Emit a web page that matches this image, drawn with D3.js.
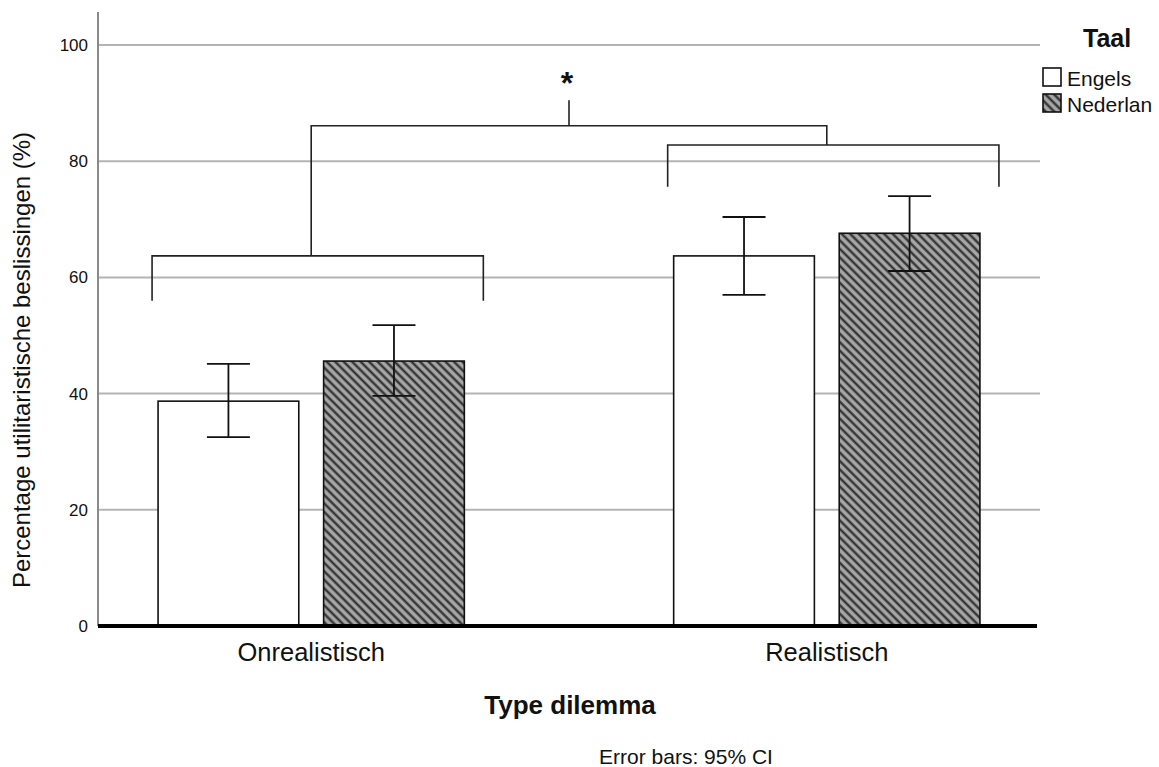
<!DOCTYPE html>
<html>
<head>
<meta charset="utf-8">
<script src="https://cdn.jsdelivr.net/npm/d3@7"></script>
<style>
  body { margin: 0; background: #fff; }
  text { font-family: "Liberation Sans", Arial, sans-serif; fill: #111; }
</style>
</head>
<body>
<svg id="chart"></svg>
<script>
// data
const categories = ['Onrealistisch', 'Realistisch'];
const languages = ['Engels', 'Nederlands'];
const legendLabels = ['Engels', 'Nederlan'];
const engelsMean = [38.7, 63.7];
const engelsLow = [32.5, 57.0];
const engelsHigh = [45.1, 70.4];
const nederlandsMean = [45.6, 67.6];
const nederlandsLow = [39.6, 61.1];
const nederlandsHigh = [51.8, 74.0];
const yTicks = [0, 20, 40, 60, 80, 100];
// significance brackets (percent units)
const bracketLevel = [63.7, 82.8];
const bracketFoot = [56.0, 75.6];
const topLevel = 86.1;
const topStem = 90.5;
const starLevel = 94.6;

const width = 1159, height = 767;
const mLeft = 98, mRight = 1040, mTop = 45, mBottom = 626;

const svg = d3.select('#chart')
    .attr('width', width)
    .attr('height', height);

// hatch pattern for Nederlands
const defs = svg.append('defs');
const pat = defs.append('pattern')
    .attr('id', 'hatch')
    .attr('patternUnits', 'userSpaceOnUse')
    .attr('width', 6)
    .attr('height', 6)
    .attr('patternTransform', 'rotate(-45)');
pat.append('rect').attr('width', 6).attr('height', 6).attr('fill', '#a6a6a6');
pat.append('line')
    .attr('x1', 1.5).attr('y1', 0).attr('x2', 1.5).attr('y2', 6)
    .attr('stroke', '#2a2a2a').attr('stroke-width', 2.2);

const y = d3.scaleLinear().domain([0, 100]).range([mBottom, mTop]);

const x0 = d3.scaleBand()
    .domain(categories)
    .range([mLeft, mRight])
    .paddingInner(0.406)
    .paddingOuter(0.1165);

const x1 = d3.scaleBand()
    .domain(languages)
    .range([0, x0.bandwidth()])
    .paddingInner(0.15);

// gridlines
svg.append('g')
    .selectAll('line')
    .data(yTicks.filter(d => d > 0))
    .enter()
    .append('line')
    .attr('x1', mLeft)
    .attr('x2', mRight)
    .attr('y1', d => y(d))
    .attr('y2', d => y(d))
    .attr('stroke', '#b4b4b4')
    .attr('stroke-width', 2);

// y axis
const yAxis = svg.append('g')
    .attr('transform', `translate(${mLeft},0)`)
    .call(d3.axisLeft(y).tickValues(yTicks).tickSize(0).tickPadding(10));
yAxis.select('.domain').remove();
yAxis.selectAll('text')
    .style('font-size', '17px')
    .style('font-family', '"Liberation Sans", Arial, sans-serif')
    .attr('fill', '#1a1a1a');

svg.append('line')
    .attr('x1', mLeft).attr('x2', mLeft)
    .attr('y1', 12).attr('y2', mBottom)
    .attr('stroke', '#8a8a8a')
    .attr('stroke-width', 2);

// bars
const rows = categories.map((c, i) => ({
    cat: c,
    vals: [
        { lang: 'Engels', mean: engelsMean[i], lo: engelsLow[i], hi: engelsHigh[i] },
        { lang: 'Nederlands', mean: nederlandsMean[i], lo: nederlandsLow[i], hi: nederlandsHigh[i] }
    ]
}));

const groups = svg.append('g')
    .selectAll('g')
    .data(rows)
    .enter()
    .append('g')
    .attr('transform', d => `translate(${x0(d.cat)},0)`);

groups.selectAll('rect')
    .data(d => d.vals)
    .enter()
    .append('rect')
    .attr('x', d => x1(d.lang))
    .attr('y', d => y(d.mean))
    .attr('width', x1.bandwidth())
    .attr('height', d => y(0) - y(d.mean))
    .attr('fill', d => d.lang === 'Engels' ? '#fff' : 'url(#hatch)')
    .attr('stroke', '#111')
    .attr('stroke-width', 1.6);

// error bars
const capW = 43;
const err = groups.selectAll('g.err')
    .data(d => d.vals)
    .enter()
    .append('g')
    .attr('class', 'err')
    .attr('stroke', '#111')
    .attr('stroke-width', 1.8);
err.append('line')
    .attr('x1', d => x1(d.lang) + x1.bandwidth() / 2)
    .attr('x2', d => x1(d.lang) + x1.bandwidth() / 2)
    .attr('y1', d => y(d.lo))
    .attr('y2', d => y(d.hi));
err.append('line')
    .attr('x1', d => x1(d.lang) + x1.bandwidth() / 2 - capW / 2)
    .attr('x2', d => x1(d.lang) + x1.bandwidth() / 2 + capW / 2)
    .attr('y1', d => y(d.hi))
    .attr('y2', d => y(d.hi));
err.append('line')
    .attr('x1', d => x1(d.lang) + x1.bandwidth() / 2 - capW / 2)
    .attr('x2', d => x1(d.lang) + x1.bandwidth() / 2 + capW / 2)
    .attr('y1', d => y(d.lo))
    .attr('y2', d => y(d.lo));

// baseline
svg.append('line')
    .attr('x1', mLeft).attr('x2', mRight - 3)
    .attr('y1', y(0)).attr('y2', y(0))
    .attr('stroke', '#000')
    .attr('stroke-width', 4);

// brackets
const bk = svg.append('g')
    .attr('fill', 'none')
    .attr('stroke', '#222')
    .attr('stroke-width', 1.6);
const padL = 6, padR = 19;
categories.forEach((c, i) => {
    const a = x0(c) - padL, b = x0(c) + x0.bandwidth() + padR;
    bk.append('path')
        .attr('d', `M${a},${y(bracketFoot[i])}V${y(bracketLevel[i])}H${b}V${y(bracketFoot[i])}`);
});
const stems = categories.map(c => x0(c) + x0.bandwidth() / 2);
bk.append('path')
    .attr('d', `M${stems[0]},${y(bracketLevel[0])}V${y(topLevel)}H${stems[1]}V${y(bracketLevel[1])}`);
const mid = (stems[0] + stems[1]) / 2;
bk.append('path')
    .attr('d', `M${mid},${y(topLevel)}V${y(topStem)}`);
svg.append('text')
    .attr('x', mid - 2)
    .attr('y', y(starLevel) + 18)
    .attr('text-anchor', 'middle')
    .style('font-size', '32px')
    .style('font-weight', 'bold')
    .text('*');

// category labels
svg.append('g')
    .selectAll('text')
    .data(categories)
    .enter()
    .append('text')
    .attr('x', d => x0(d) + x0.bandwidth() / 2)
    .attr('y', 661)
    .attr('text-anchor', 'middle')
    .style('font-size', '25.5px')
    .attr('fill', '#222')
    .text(d => d);

// axis titles
svg.append('text')
    .attr('x', (mLeft + mRight) / 2 + 1)
    .attr('y', 714)
    .attr('text-anchor', 'middle')
    .style('font-size', '26px')
    .style('font-weight', 'bold')
    .text('Type dilemma');

svg.append('text')
    .attr('transform', 'translate(30,360) rotate(-90)')
    .attr('text-anchor', 'middle')
    .style('font-size', '24px')
    .text('Percentage utilitaristische beslissingen (%)');

svg.append('text')
    .attr('x', 686)
    .attr('y', 764)
    .attr('text-anchor', 'middle')
    .style('font-size', '21px')
    .attr('fill', '#333')
    .text('Error bars: 95% CI');

// legend
const lg = svg.append('g');
lg.append('text')
    .attr('x', 1083)
    .attr('y', 47)
    .style('font-size', '25px')
    .style('font-weight', 'bold')
    .text('Taal');
const items = lg.selectAll('g.item')
    .data(languages)
    .enter()
    .append('g')
    .attr('class', 'item')
    .attr('transform', (d, i) => `translate(1043,${68 + i * 26})`);
items.append('rect')
    .attr('width', 18)
    .attr('height', 18)
    .attr('fill', d => d === 'Engels' ? '#fff' : 'url(#hatch)')
    .attr('stroke', '#111')
    .attr('stroke-width', 1.6);
items.append('text')
    .attr('x', 24)
    .attr('y', 18)
    .style('font-size', '21px')
    .attr('fill', '#222')
    .text((d, i) => legendLabels[i]);
</script>
</body>
</html>
